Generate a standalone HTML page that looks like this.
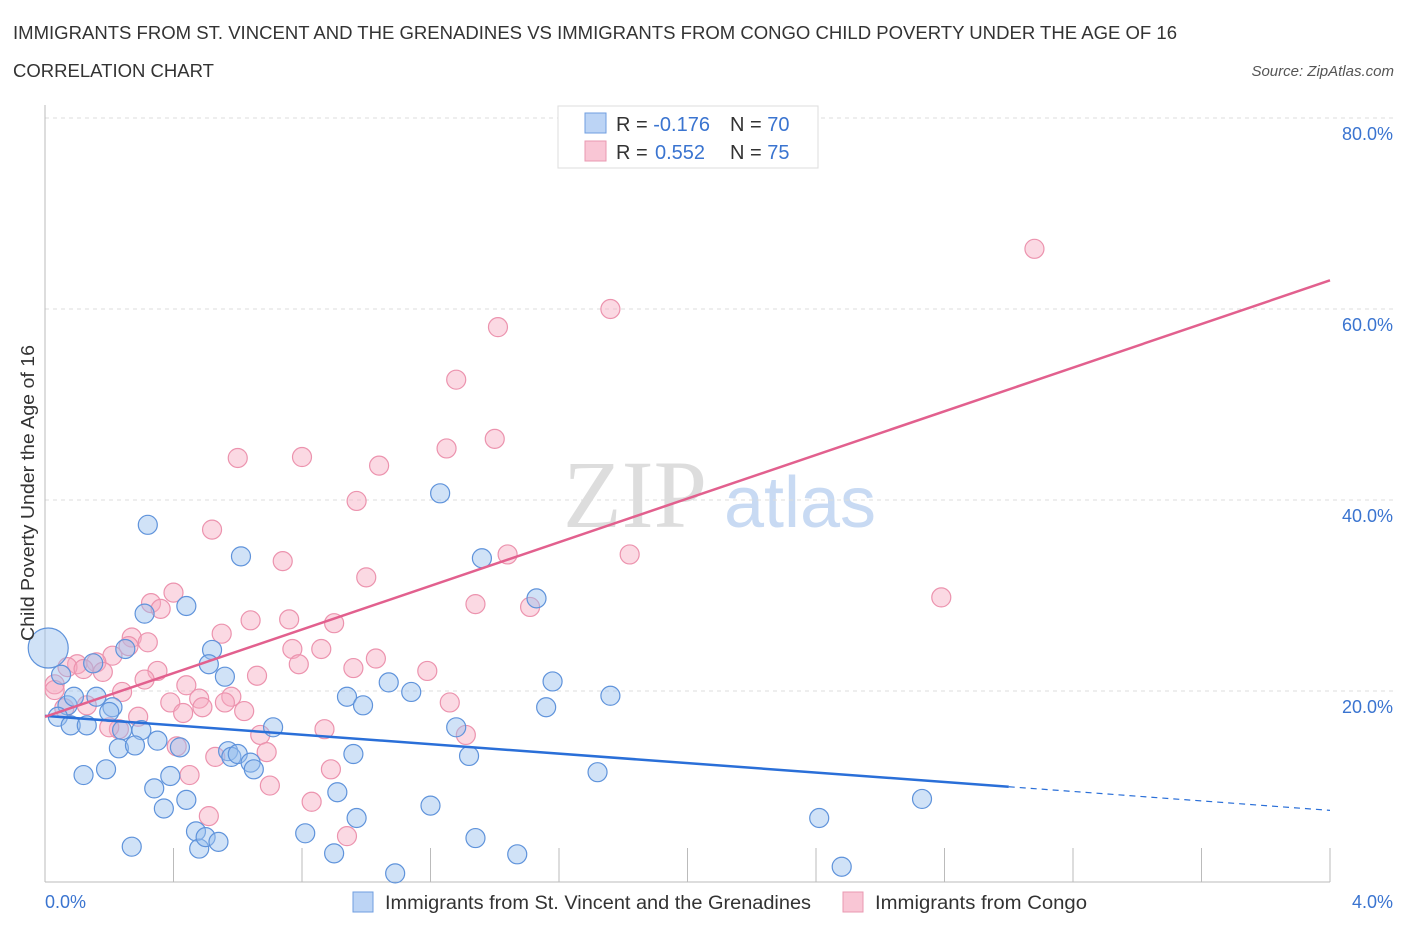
<!DOCTYPE html>
<html><head><meta charset="utf-8"><style>
body{margin:0;background:#fff;font-family:"Liberation Sans",sans-serif;}
svg{display:block}
</style></head><body>
<svg width="1406" height="930" id="chart" font-family="Liberation Sans, sans-serif">
<text x="13" y="39" font-size="18" fill="#333" textLength="1164" lengthAdjust="spacingAndGlyphs">IMMIGRANTS FROM ST. VINCENT AND THE GRENADINES VS IMMIGRANTS FROM CONGO CHILD POVERTY UNDER THE AGE OF 16</text>
<text x="13" y="77" font-size="18" fill="#333" textLength="201" lengthAdjust="spacingAndGlyphs">CORRELATION CHART</text>
<text x="1394" y="76" font-size="15" fill="#555" font-style="italic" text-anchor="end">Source: ZipAtlas.com</text>
<g>
<text x="635" y="527" font-size="96" fill="#ddd" font-family="Liberation Serif, serif" text-anchor="middle">ZIP</text>
<text x="800" y="527" font-size="72" fill="#c8daf3" text-anchor="middle">atlas</text>
</g>
<g id="grid"></g><g id="axes"></g><g id="marks"></g>
<text transform="translate(34,493) rotate(-90)" font-size="18" fill="#333" text-anchor="middle" textLength="296" lengthAdjust="spacingAndGlyphs">Child Poverty Under the Age of 16</text>
<text x="45" y="908" font-size="18" fill="#3a74d0">0.0%</text>
<text x="1393" y="908" font-size="18" fill="#3a74d0" text-anchor="end">4.0%</text>
<g>
<rect x="558" y="106" width="260" height="62" fill="#fff" stroke="#ddd"/>
<rect x="585" y="113" width="21" height="20" fill="#bcd4f5" stroke="#6f9ee0"/>
<rect x="585" y="141" width="21" height="20" fill="#f9c6d5" stroke="#e998b1"/>
<text x="616" y="131" font-size="20" fill="#333">R = <tspan fill="#3a74d0">-0.176</tspan><tspan x="730">N = </tspan><tspan fill="#3a74d0">70</tspan></text>
<text x="616" y="159" font-size="20" fill="#333">R = <tspan fill="#3a74d0" x="655">0.552</tspan><tspan x="730">N = </tspan><tspan fill="#3a74d0">75</tspan></text>
</g>
<g>
<rect x="353" y="892" width="20" height="20" fill="#bcd4f5" stroke="#6f9ee0"/>
<text x="385" y="909" font-size="19" fill="#333" textLength="426" lengthAdjust="spacingAndGlyphs">Immigrants from St. Vincent and the Grenadines</text>
<rect x="843" y="892" width="20" height="20" fill="#f9c6d5" stroke="#e998b1"/>
<text x="875" y="909" font-size="19" fill="#333" textLength="212" lengthAdjust="spacingAndGlyphs">Immigrants from Congo</text>
</g>
</svg>
<script>
const yTicks=[20,40,60,80];
const yTickLabels=["20.0%","40.0%","60.0%","80.0%"];
const xTicks=[0,0.4,0.8,1.2,1.6,2.0,2.4,2.8,3.2,3.6,4.0];
const blueX=[0.01,0.07,0.04,0.08,0.13,0.09,0.15,0.05,0.16,0.21,0.2,0.24,0.3,0.23,0.28,0.35,0.42,0.25,0.31,0.32,0.44,0.52,0.51,0.56,0.61,0.12,0.19,0.27,0.34,0.37,0.39,0.44,0.47,0.48,0.5,0.54,0.57,0.58,0.6,0.64,0.65,0.71,0.81,0.9,0.91,0.96,0.97,0.94,0.99,1.07,1.09,1.14,1.2,1.23,1.28,1.32,1.34,1.36,1.47,1.53,1.56,1.58,1.72,1.76,2.41,2.48,2.73];
const blueY=[24.5,18.5,17.3,16.4,16.4,19.4,22.9,21.7,19.4,18.3,17.8,15.9,15.9,14,14.3,14.8,14.1,24.4,28.1,37.4,28.9,24.3,22.8,21.5,34.1,11.2,11.8,3.7,9.8,7.7,11.1,8.6,5.3,3.5,4.7,4.2,13.7,13.1,13.4,12.5,11.8,16.2,5.1,3.0,9.4,13.4,6.7,19.4,18.5,20.9,0.9,19.9,8.0,40.7,16.2,13.2,4.6,33.9,2.9,29.7,18.3,21.0,11.5,19.5,6.7,1.6,8.7];
const pinkX=[3.08,1.76,1.41,1.28,1.4,1.25,0.6,0.8,1.04,0.97,0.52,0.74,1.44,1.82,1.0,0.4,0.33,0.36,1.34,1.51,2.79,0.64,0.76,0.9,0.55,0.27,0.32,0.26,0.77,0.86,1.03,0.21,0.1,0.16,0.07,0.12,0.18,0.35,0.79,0.96,1.19,0.66,0.31,0.03,0.03,0.44,0.24,0.39,0.48,0.58,0.49,0.56,1.26,0.13,0.06,0.62,0.43,0.29,0.23,0.2,0.87,0.67,1.31,0.41,0.53,0.69,0.89,0.45,0.7,0.83,0.51,0.94];
const pinkY=[66.3,60,58.1,52.6,46.4,45.4,44.4,44.5,43.6,39.9,36.9,33.6,34.3,34.3,31.9,30.3,29.2,28.6,29.1,28.8,29.8,27.4,27.5,27.1,26.0,25.6,25.1,24.7,24.4,24.4,23.4,23.7,22.8,23.0,22.5,22.3,22.0,22.1,22.8,22.4,22.1,21.6,21.2,20.7,20.1,20.6,19.9,18.8,19.2,19.4,18.3,18.8,18.8,18.5,18.2,17.9,17.7,17.3,16.0,16.2,16.0,15.4,15.4,14.2,13.1,13.6,11.8,11.2,10.1,8.4,6.9,4.8];
const blueLine=[17.4,7.5];
const blueSolidEnd=3.0;
const pinkLine=[17.3,63.0];

const NS="http://www.w3.org/2000/svg";
const X0=45,X1=1330,Y0=882,YPX=9.55;
const sx=v=>X0+(v/4)*(X1-X0);
const sy=v=>Y0-v*YPX;
function mk(tag,attrs,parent){const e=document.createElementNS(NS,tag);for(const k in attrs)e.setAttribute(k,attrs[k]);parent.appendChild(e);return e;}
const grid=document.getElementById('grid'),axes=document.getElementById('axes'),marks=document.getElementById('marks');
yTicks.forEach((t,i)=>{
 const l=mk('line',{x1:X0,x2:1395,y1:sy(t),y2:sy(t),stroke:'#ddd','stroke-dasharray':'4,4'},grid);
 
 
 const tx=mk('text',{x:1393,y:sy(t)+22,'font-size':18,fill:'#3a74d0','text-anchor':'end'},grid);
 tx.textContent=yTickLabels[i];
 
 
});
const ax=mk('line',{x1:X0,x2:X0,y1:105,y2:Y0,stroke:'#bbb'},axes);


const bx=mk('line',{x1:X0,x2:X1,y1:Y0,y2:Y0,stroke:'#bbb'},axes);


xTicks.forEach(t=>{
 const l=mk('line',{x1:sx(t),x2:sx(t),y1:848,y2:Y0,stroke:'#bbb'},axes);
 
 
});
function dots(xs,ys,fill,stroke,name){
 xs.forEach((x,i)=>{
  const c=mk('circle',{cx:sx(x),cy:sy(ys[i]),r:i===0&&name==='blue-point'?20:9.5,fill:fill,stroke:stroke,'stroke-width':1.2},marks);
  
  
 });
}
dots(pinkX,pinkY,'rgba(246,170,192,0.45)','#ec93ae','pink-point');
dots(blueX,blueY,'rgba(150,190,238,0.45)','#5f93db','blue-point');
const by=x=>blueLine[0]+(blueLine[1]-blueLine[0])*x/4;
const b1=mk('line',{x1:sx(0),y1:sy(by(0)),x2:sx(blueSolidEnd),y2:sy(by(blueSolidEnd)),stroke:'#2a6fd8','stroke-width':2.5},marks);


const b2=mk('line',{x1:sx(blueSolidEnd),y1:sy(by(blueSolidEnd)),x2:sx(4),y2:sy(by(4)),stroke:'#2a6fd8','stroke-width':1.2,'stroke-dasharray':'6,5'},marks);


const p1=mk('line',{x1:sx(0),y1:sy(pinkLine[0]),x2:sx(4),y2:sy(pinkLine[1]),stroke:'#e2608e','stroke-width':2.5},marks);


</script>
</body></html>
